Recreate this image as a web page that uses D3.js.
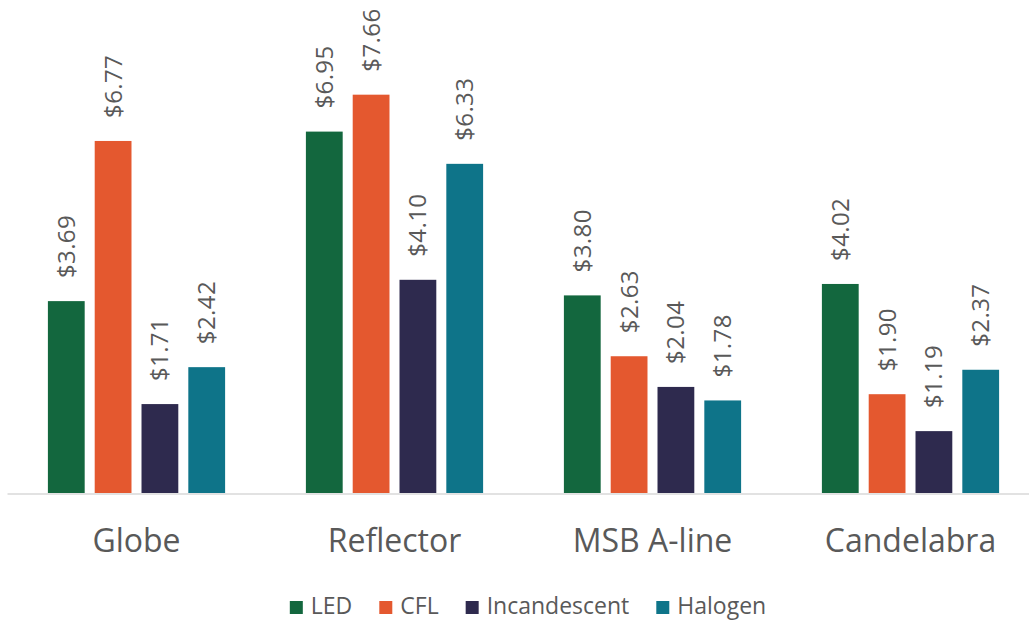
<!DOCTYPE html>
<html><head><meta charset="utf-8">
<script src="https://cdn.jsdelivr.net/npm/d3@7"></script>
<style>
html,body{margin:0;padding:0;background:#fff;}
svg{display:block;font-family:"Open Sans",sans-serif;}
</style></head>
<body>
<svg id="chart" width="1029" height="622"></svg>
<script>
const categories = ["Globe", "Reflector", "MSB A-line", "Candelabra"];
const seriesNames = ["LED", "CFL", "Incandescent", "Halogen"];
const ledValues = [3.69, 6.95, 3.80, 4.02];
const cflValues = [6.77, 7.66, 2.63, 1.90];
const incandescentValues = [1.71, 4.10, 2.04, 1.19];
const halogenValues = [2.42, 6.33, 1.78, 2.37];
const colors = ["#13673E", "#E4582F", "#2E2A4E", "#0E7489"];

const seriesValues = [ledValues, cflValues, incandescentValues, halogenValues];
const svg = d3.select("#chart");
const W = 1029, H = 622;

const x0 = d3.scaleBand().domain(categories).range([7.5, 1039.5]).padding(0);
const x1 = d3.scaleBand().domain(seriesNames).range([0, x0.bandwidth()])
  .paddingInner(0.214).paddingOuter(0.863);
const y = d3.scaleLinear().domain([0, 9]).range([493, 25]);
const color = d3.scaleOrdinal().domain(seriesNames).range(colors);

const data = [];
categories.forEach((c, ci) => {
  seriesNames.forEach((s, si) => data.push({cat: c, series: s, value: seriesValues[si][ci]}));
});

// bars
svg.append("g").selectAll("rect").data(data).join("rect")
  .attr("x", d => x0(d.cat) + x1(d.series))
  .attr("y", d => y(d.value))
  .attr("width", x1.bandwidth())
  .attr("height", d => y(0) - y(d.value))
  .attr("fill", d => color(d.series));

// axis baseline
svg.append("line")
  .attr("x1", x0.range()[0]).attr("x2", W)
  .attr("y1", y(0) + 1).attr("y2", y(0) + 1)
  .attr("stroke", "#d9d9d9").attr("stroke-width", 1.5);

// data labels
svg.append("g").selectAll("text").data(data).join("text")
  .attr("transform", d => `translate(${x0(d.cat) + x1(d.series) + x1.bandwidth()/2},${y(d.value) - 23}) rotate(-90)`)
  .attr("dy", "0.35em")
  .attr("text-anchor", "start")
  .attr("font-size", 24)
  .attr("letter-spacing", 0.4)
  .attr("fill", "#595959")
  .text(d => "$" + d.value.toFixed(2));

// category labels
svg.append("g").selectAll("text").data(categories).join("text")
  .attr("x", d => x0(d) + x0.bandwidth()/2)
  .attr("y", 552)
  .attr("text-anchor", "middle")
  .attr("font-size", 32)
  .attr("fill", "#595959")
  .text(d => d);

// legend
const legend = svg.append("g");
const items = legend.selectAll("g").data(seriesNames).join("g");
items.append("rect").attr("width", 13).attr("height", 13).attr("y", 601)
  .attr("fill", d => color(d));
items.append("text").attr("x", 21).attr("y", 614)
  .attr("font-size", 23).attr("fill", "#595959").text(d => d);
let cx = 0;
const offsets = [];
items.each(function(d) {
  offsets.push(cx);
  const tw = d3.select(this).select("text").node().getComputedTextLength();
  cx += 21 + tw + 27;
});
const total = cx - 27;
const start = 528 - total / 2;
items.attr("transform", (d, i) => `translate(${start + offsets[i]},0)`);
</script>
</body></html>
